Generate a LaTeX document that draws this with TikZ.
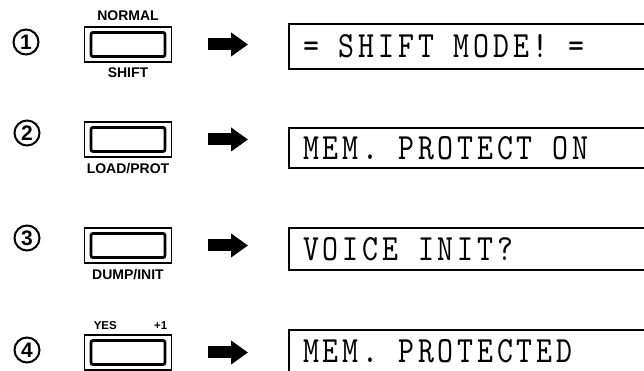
\documentclass[tikz,border=0pt]{standalone}
\usepackage{fontspec}
\newfontfamily\keyfont{Liberation Sans}
\newfontfamily\lcdfont[Extension=.otf, FakeStretch=0.82, LetterSpace=10.4]{lmmono10-regular}
\usetikzlibrary{arrows.meta,positioning}
\tikzset{
  numcircle/.style={
    circle, draw, line width=2pt, minimum size=25pt, inner sep=0pt,
    font=\keyfont\bfseries\fontsize{21}{21}\selectfont
  },
  keybtn/.style={
    rectangle, draw, line width=1.8pt, minimum width=87pt,
    minimum height=35pt, inner sep=0pt,
    path picture={\draw[line width=2.8pt, rounded corners=2pt]
      ([shift={(6.5pt,-5.5pt)}]path picture bounding box.north west) rectangle
      ([shift={(-6.5pt,5.5pt)}]path picture bounding box.south east);}
  },
  keylabel/.style={inner sep=0pt, font=\keyfont\bfseries\fontsize{14}{14}\selectfont},
  smalllabel/.style={inner sep=0pt, font=\keyfont\bfseries\fontsize{11.5}{11.5}\selectfont},
  lcd/.style={
    anchor=west, inner xsep=14pt, inner ysep=0pt,
    text height=22.5pt, text depth=0pt,
    font=\lcdfont\frenchspacing\fontsize{37}{37}\selectfont
  },
  lcdframe/.style={line width=1.6pt},
  fatarrow/.style={
    line width=12pt, -{Triangle[length=17pt,width=23pt]},
    shorten <=36pt, shorten >=41pt
  }
}

\begin{document}
\begin{tikzpicture}[x=1pt,y=1pt]

  \useasboundingbox (0,0) rectangle (644,371);
  \coordinate (edge) at (650,0);

  % Row 1
  \node[numcircle] (num1) at (26,329) {1};
  \node[keybtn] (btn1) at (128,326.5) {};
  \node[keylabel, above=5pt of btn1] (normal) {NORMAL};
  \node[keylabel, below=5pt of btn1] (shift) {SHIFT};
  \node[lcd, minimum height=45pt] (lcd1) at (289,324.5) {= SHIFT MODE! =};

  % Row 2
  \node[numcircle] (num2) at (27,238) {2};
  \node[keybtn] (btn2) at (128,231.5) {};
  \node[keylabel, below=5pt of btn2] (loadprot) {LOAD/PROT};
  \node[lcd, minimum height=40pt] (lcd2) at (289,223) {MEM. PROTECT ON};

  % Row 3
  \node[numcircle] (num3) at (27,133) {3};
  \node[keybtn] (btn3) at (128,125.5) {};
  \node[keylabel, below=5pt of btn3] (dumpinit) {DUMP/INIT};
  \node[lcd, minimum height=42pt] (lcd3) at (289,122) {VOICE INIT?};

  % Row 4
  \node[numcircle] (num4) at (27,21) {4};
  \node[keybtn] (btn4) at (128,18.5) {};
  \node[smalllabel, above right=4pt and 10pt of btn4.north west] (yes) {YES};
  \node[smalllabel, above left=4pt and 5pt of btn4.north east] (plusone) {+1};
  \node[lcd, minimum height=43pt] (lcd4) at (289,19.5) {MEM. PROTECTED};

  % Display frames, open to the right
  \draw[lcdframe] (lcd1.north west -| edge) -- (lcd1.north west) -- (lcd1.south west) -- (lcd1.south west -| edge);
  \draw[lcdframe] (lcd2.north west -| edge) -- (lcd2.north west) -- (lcd2.south west) -- (lcd2.south west -| edge);
  \draw[lcdframe] (lcd3.north west -| edge) -- (lcd3.north west) -- (lcd3.south west) -- (lcd3.south west -| edge);
  \draw[lcdframe] (lcd4.north west -| edge) -- (lcd4.north west) -- (lcd4.south west) -- (lcd4.south west -| edge);

  % Arrows
  \draw[fatarrow] (btn1.east) -- (btn1.east -| lcd1.west);
  \draw[fatarrow] (btn2.east) -- (btn2.east -| lcd2.west);
  \draw[fatarrow] (btn3.east) -- (btn3.east -| lcd3.west);
  \draw[fatarrow] (btn4.east) -- (btn4.east -| lcd4.west);

\end{tikzpicture}
\end{document}
